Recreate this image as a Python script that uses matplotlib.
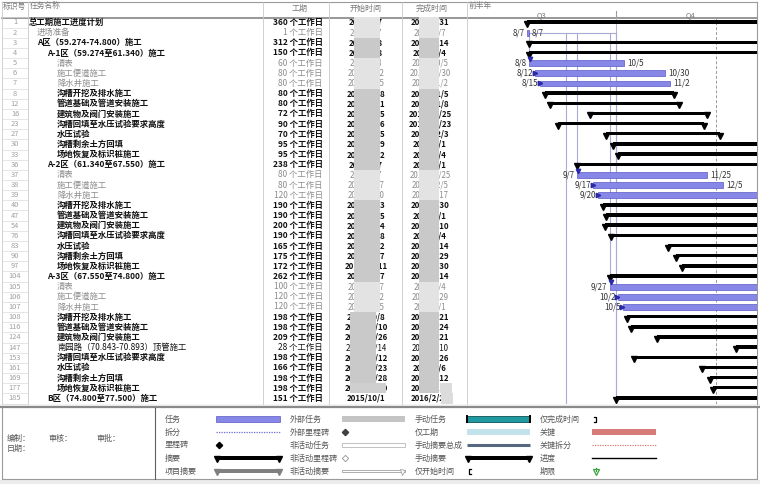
import matplotlib
matplotlib.use('Agg')
import matplotlib.pyplot as plt
import matplotlib.dates as mdates
from matplotlib.patches import Rectangle
from matplotlib.transforms import blended_transform_factory
import datetime as dt

plt.rcParams['font.family'] = ['Noto Sans CJK SC', 'DejaVu Sans']

# ---------------- data ----------------
task_ids = [1, 2, 3, 4, 5, 6, 7, 8, 12, 16, 23, 27, 30, 33, 36, 37, 38, 39, 40, 47,
            54, 76, 83, 90, 97, 104, 105, 106, 107, 108, 116, 124, 147, 153, 161,
            169, 177, 185]
task_names = [
    "总工期施工进度计划", "进场准备", "A区（59.274-74.800）施工",
    "A-1区（59.274至61.340）施工", "清表", "施工便道施工", "降水井施工",
    "沟槽开挖及排水施工", "管道基础及管道安装施工", "建筑物及阀门安装施工",
    "沟槽回填至水压试验要求高度", "水压试验", "沟槽剩余土方回填", "场地恢复及标识桩施工",
    "A-2区（61.340至67.550）施工", "清表", "施工便道施工", "降水井施工",
    "沟槽开挖及排水施工", "管道基础及管道安装施工", "建筑物及阀门安装施工",
    "沟槽回填至水压试验要求高度", "水压试验", "沟槽剩余土方回填", "场地恢复及标识桩施工",
    "A-3区（67.550至74.800）施工", "清表", "施工便道施工", "降水井施工",
    "沟槽开挖及排水施工", "管道基础及管道安装施工", "建筑物及阀门安装施工",
    "南园路（70.843-70.893）顶管施工", "沟槽回填至水压试验要求高度", "水压试验",
    "沟槽剩余土方回填", "场地恢复及标识桩施工", "B区（74.800至77.500）施工"]
outline_levels = [0, 1, 1, 2, 3, 3, 3, 3, 3, 3, 3, 3, 3, 3, 2, 3, 3, 3, 3, 3,
                  3, 3, 3, 3, 3, 2, 3, 3, 3, 3, 3, 3, 3, 3, 3, 3, 3, 2]
durations = [360, 1, 312, 150, 60, 80, 80, 80, 80, 72, 90, 70, 95, 95, 238, 80, 80,
             120, 190, 190, 200, 190, 165, 175, 172, 262, 100, 120, 120, 198, 198,
             209, 28, 198, 166, 198, 198, 151]
start_dates = ["2015-08-07", "2015-08-07", "2015-08-08", "2015-08-08", "2015-08-08",
               "2015-08-12", "2015-08-15", "2015-08-18", "2015-08-21", "2015-09-15",
               "2015-08-26", "2015-09-25", "2015-09-29", "2015-10-02", "2015-09-07",
               "2015-09-07", "2015-09-17", "2015-09-20", "2015-09-23", "2015-09-25",
               "2015-09-24", "2015-09-28", "2015-11-02", "2015-11-07", "2015-11-11",
               "2015-09-27", "2015-09-27", "2015-10-02", "2015-10-05", "2015-10-08",
               "2015-10-10", "2015-10-26", "2015-12-14", "2015-10-12", "2015-11-23",
               "2015-11-28", "2015-11-30", "2015-10-01"]
finish_dates = ["2016-07-31", "2015-08-07", "2016-06-14", "2016-01-04", "2015-10-05",
                "2015-10-30", "2015-11-02", "2015-11-05", "2015-11-08", "2015-11-25",
                "2015-11-23", "2015-12-03", "2016-01-01", "2016-01-04", "2016-05-01",
                "2015-11-25", "2015-12-05", "2016-01-17", "2016-03-30", "2016-04-01",
                "2016-04-10", "2016-04-04", "2016-04-14", "2016-04-29", "2016-04-30",
                "2016-06-14", "2016-01-04", "2016-01-29", "2016-02-01", "2016-04-21",
                "2016-04-24", "2016-05-21", "2016-01-10", "2016-04-26", "2016-05-06",
                "2016-06-12", "2016-06-14", "2016-02-28"]
# 'S' = summary (black bar), 'T' = task (blue bar)
row_kinds = ["S", "T", "S", "S", "T", "T", "T", "S", "S", "S", "S", "S", "S", "S",
             "S", "T", "T", "T", "S", "S", "S", "S", "S", "S", "S", "S", "T", "T",
             "T", "S", "S", "S", "S", "S", "S", "S", "S", "S"]
# link marker at task start: 'd' down arrow, 'r' right arrow, '' none
link_marks = ["", "", "", "", "d", "r", "r", "", "", "", "", "", "", "", "", "d",
              "r", "r", "", "", "", "", "", "", "", "", "d", "r", "r", "", "", "",
              "", "", "", "", "", ""]
link_from_row = 1
link_to_rows = [4, 15, 26, 37]
extra_link_date = "2015-08-31"
status_date = "2015-12-02"
timeline_start = "2015-07-01"
quarters = [("Q3", "2015-07-01", "2015-10-01"), ("Q4", "2015-10-01", "2016-01-01")]

legend_cols = [
    ["任务", "拆分", "里程碑", "摘要", "项目摘要"],
    ["外部任务", "外部里程碑", "非活动任务", "非活动里程碑", "非活动摘要"],
    ["手动任务", "仅工期", "手动摘要总成", "手动摘要", "仅开始时间"],
    ["仅完成时间", "关键", "关键拆分", "进度", "期限"],
]

# ---------------- helpers ----------------
def d(s):
    return mdates.date2num(dt.datetime.strptime(s, "%Y-%m-%d"))

def fmt_md(s):
    t = dt.datetime.strptime(s, "%Y-%m-%d")
    return f"{t.month}/{t.day}"

def fmt_full(s):
    t = dt.datetime.strptime(s, "%Y-%m-%d")
    return f"{t.year}/{t.month}/{t.day}"

W, H = 760, 484
ROW0, RH = 22.5, 10.16
TOP, HDR, TBOT = 2, 18, 404
GX0, GX1 = 467, 757
PX_PER_DAY = 1.62

def ry(i):
    return ROW0 + i * RH

fig = plt.figure(figsize=(W / 100, H / 100), dpi=100)
bg = fig.add_axes([0, 0, 1, 1])
bg.set_xlim(0, W)
bg.set_ylim(H, 0)
bg.axis('off')

GRID = '#c9c9c9'
FS = 6.0

# ---------------- table frame ----------------
bg.add_patch(Rectangle((0, 0), W, H, fc='white', ec='none', zorder=0))
bg.plot([2, GX1], [TOP, TOP], color='#9a9a9a', lw=0.8)
bg.plot([2, GX1], [HDR, HDR], color='#7a7a7a', lw=1.1)
for x in [2, 28, 263, 329, 402, GX0]:
    bg.plot([x, x], [TOP, TBOT], color=GRID, lw=0.6)
bg.plot([GX1, GX1], [TOP, TBOT], color='#9a9a9a', lw=0.8)
for i in range(len(task_ids) + 1):
    y = ry(i) - RH / 2
    bg.plot([2, 28], [y, y], color='#dadada', lw=0.5)

hdr_c = '#7a7a7a'
bg.text(3, 7, "标识号", fontsize=5.6, color=hdr_c, va='center')
bg.text(30, 7, "任务名称", fontsize=5.6, color=hdr_c, va='center')
bg.text(300, 8, "工期", fontsize=5.8, color=hdr_c, va='center', ha='center')
bg.text(366, 8, "开始时间", fontsize=5.8, color=hdr_c, va='center', ha='center')
bg.text(432, 8, "完成时间", fontsize=5.8, color=hdr_c, va='center', ha='center')
bg.text(469, 6, "前半年", fontsize=5.6, color=hdr_c, va='center')

indent_x = {0: 28.5, 1: 37, 2: 47, 3: 57}
for i, tid in enumerate(task_ids):
    y = ry(i)
    summ = row_kinds[i] == "S" or task_ids[i] == 147
    bold = row_kinds[i] == "S" and task_ids[i] != 147
    col = '#111111' if summ else '#8c8c8c'
    wt = 'bold' if bold else 'normal'
    bg.text(15, y, str(tid), fontsize=5.4, color='#a0a0a0', ha='center', va='center')
    bg.text(indent_x[outline_levels[i]], y, task_names[i], fontsize=FS, color=col,
            weight=wt, va='center')
    bg.text(323, y, f"{durations[i]} 个工作日", fontsize=FS, color=col, weight=wt,
            ha='right', va='center')
    bg.text(366, y, fmt_full(start_dates[i]), fontsize=FS - 0.3, color=col, weight=wt,
            ha='center', va='center')
    bg.text(430, y, fmt_full(finish_dates[i]), fontsize=FS - 0.3, color=col, weight=wt,
            ha='center', va='center')

# privacy blur over the date columns (as in the screenshot)
for i in range(len(task_ids) - 1):
    y = ry(i)
    shade = '#c9c9c9' if row_kinds[i] == "S" and i > 1 else '#e3e3e3'
    x0s = 354 if i < 29 else 350
    bg.add_patch(Rectangle((x0s, y - RH / 2), 26, RH, fc=shade, ec='none', zorder=5))
    bg.add_patch(Rectangle((419, y - RH / 2), 20, RH, fc=shade, ec='none', zorder=5))
bg.add_patch(Rectangle((350, ry(36) - RH / 2), 36, RH, fc='#cfcfcf', ec='none', zorder=5))
bg.add_patch(Rectangle((440, ry(36) - RH / 2), 12, RH, fc='#dcdcdc', ec='none', zorder=5))
bg.add_patch(Rectangle((441, ry(37) - RH / 2), 12, RH, fc='#dcdcdc', ec='none', zorder=5))

# ---------------- gantt ----------------
ax = fig.add_axes([GX0 / W, 1 - TBOT / H, (GX1 - GX0) / W, (TBOT - HDR) / H])
x_left = d(timeline_start)
x_right = x_left + (GX1 - GX0) / PX_PER_DAY
ax.set_xlim(x_left, x_right)
ax.set_ylim((TBOT - ROW0) / RH, (HDR - ROW0) / RH)
ax.set_axis_off()

tr = blended_transform_factory(ax.transData, fig.transFigure)
for name, q0, q1 in quarters:
    xm = (d(q0) + d(q1)) / 2
    ax.text(xm, 1 - 15 / H, name, transform=tr, fontsize=5.4, color=hdr_c,
            ha='center', va='center', clip_on=False)
ax.plot([d(quarters[1][1]), d(quarters[1][1])], [1 - 11 / H, 1 - HDR / H],
        transform=tr, color='#9a9a9a', lw=0.8, clip_on=False)

ylo, yhi = ax.get_ylim()
ax.plot([d(status_date)] * 2, [ylo, yhi], color='#9a9a9a', lw=0.7, ls=(0, (3, 2)))
ax.plot([d(quarters[1][1])] * 2, [ylo, yhi], color='#b8b8cc', lw=0.8)

LINK = '#a7abd6'
fr = link_from_row
xf = d(finish_dates[fr]) + 1
last_x = max(d(start_dates[r]) for r in link_to_rows)
ax.plot([xf + 1, last_x], [fr, fr], color=LINK, lw=0.8)
for r in link_to_rows:
    xs = d(start_dates[r])
    ax.plot([xs, xs], [fr, r - 0.35], color=LINK, lw=0.8)
ax.plot([d(extra_link_date)] * 2, [fr, ylo], color=LINK, lw=0.8)

BLUE = '#8787e8'
BLUE_E = '#5a5ac8'
for i in range(len(task_ids)):
    s = d(start_dates[i])
    e = d(finish_dates[i]) + 1
    if row_kinds[i] == "S":
        ax.barh(i - 0.05, e - s, left=s, height=0.34, color='black', zorder=3)
        ax.plot([s, e], [i + 0.15, i + 0.15], ls='none', marker='v', ms=4.2,
                color='black', zorder=4)
    else:
        ax.barh(i, e - s, left=s, height=0.58, color=BLUE, edgecolor=BLUE_E,
                lw=0.5, zorder=3)
        ax.text(s - 1.2, i, fmt_md(start_dates[i]), fontsize=5.8, color='#333333',
                ha='right', va='center', zorder=4)
        if e + 14 < x_right:
            ax.text(e + 2.2, i, fmt_md(finish_dates[i]), fontsize=5.8, color='#333333',
                    ha='left', va='center', zorder=4)
    if link_marks[i] == 'd':
        ax.plot(s + 0.8, i - 0.42, marker='v', ms=3.2, color='#2a2aa8', zorder=5)
    elif link_marks[i] == 'r':
        ax.plot(s - 0.2, i, marker='>', ms=3.2, color='#2a2aa8', zorder=5)

# ---------------- legend ----------------
LTOP, LBOT = 408, 479
bg.add_patch(Rectangle((0, TBOT), W, LTOP - TBOT, fc='#f4f4f4', ec='none', zorder=0))
bg.plot([0, W], [LTOP - 1.5, LTOP - 1.5], color='#8a8a8a', lw=1.6)
bg.plot([2, GX1], [LBOT, LBOT], color='#9a9a9a', lw=0.8)
bg.plot([2, 2], [LTOP, LBOT], color='#9a9a9a', lw=0.8)
bg.plot([GX1, GX1], [LTOP, LBOT], color='#9a9a9a', lw=0.8)
bg.plot([155, 155], [LTOP, LBOT], color='#606060', lw=0.8)
bg.add_patch(Rectangle((0, LBOT + 0.5), W, H - LBOT, fc='#ececec', ec='none', zorder=0))

lc = '#555555'
bg.text(7, 438, "编制：", fontsize=5.8, color=lc, va='center')
bg.text(48, 438, "审核：", fontsize=5.8, color=lc, va='center')
bg.text(96, 438, "审批：", fontsize=5.8, color=lc, va='center')
bg.text(7, 448, "日期：", fontsize=5.8, color=lc, va='center')

lab_x = [165, 290, 415, 540]
sym_x = [(216, 280), (342, 405), (467, 530), (592, 656)]
row_y = [419, 432, 445, 458, 471]


def summary_sym(x0, x1, y, c, hollow=False):
    if hollow:
        bg.add_patch(Rectangle((x0, y - 1.3), x1 - x0, 2.6, fc='white', ec=c, lw=0.6))
        bg.plot([x1 - 3], [y + 1], marker='v', ms=3.6, mfc='white', mec=c, mew=0.6)
    else:
        bg.add_patch(Rectangle((x0, y - 1.6), x1 - x0, 3.2, fc=c, ec='none'))
        bg.plot([x0 + 1, x1 - 1], [y + 1.2, y + 1.2], ls='none', marker='v', ms=4,
                color=c)


for ci, labels in enumerate(legend_cols):
    for ri, lab in enumerate(labels):
        bg.text(lab_x[ci], row_y[ri], lab, fontsize=5.8, color=lc, va='center')
        x0, x1 = sym_x[ci]
        y = row_y[ri]
        key = (ci, ri)
        if key == (0, 0):
            bg.add_patch(Rectangle((x0, y - 2.6), x1 - x0, 5.2, fc=BLUE, ec=BLUE_E, lw=0.5))
        elif key == (0, 1):
            bg.plot([x0, x1], [y, y], color='#6a6ad8', lw=0.9, ls=(0, (1, 1)))
        elif key == (0, 2):
            bg.plot(x0 + 3, y, marker='D', ms=3.2, color='black')
        elif key == (0, 3):
            summary_sym(x0, x1, y, 'black')
        elif key == (0, 4):
            summary_sym(x0, x1, y, '#808080')
        elif key == (1, 0):
            bg.add_patch(Rectangle((x0, y - 2.6), x1 - x0, 5.2, fc='#c4c4c4', ec='none'))
        elif key == (1, 1):
            bg.plot(x0 + 3, y, marker='D', ms=3.2, color='#404040')
        elif key == (1, 2):
            bg.add_patch(Rectangle((x0, y - 2.4), x1 - x0, 4.8, fc='white', ec='#b8b8b8', lw=0.6))
        elif key == (1, 3):
            bg.plot(x0 + 3, y, marker='D', ms=3.2, mfc='white', mec='#909090', mew=0.6)
        elif key == (1, 4):
            summary_sym(x0, x1, y, '#a0a0a0', hollow=True)
        elif key == (2, 0):
            bg.add_patch(Rectangle((x0, y - 2.6), x1 - x0, 5.2, fc='#1f9aa0', ec='#0e4f55', lw=0.6))
            for xx in (x0, x1):
                bg.plot([xx, xx], [y - 2.8, y + 2.8], color='black', lw=1.4)
        elif key == (2, 1):
            bg.add_patch(Rectangle((x0, y - 2.6), x1 - x0, 5.2, fc='#c3e2ec', ec='none'))
        elif key == (2, 2):
            bg.plot([x0, x1], [y, y], color='#56687f', lw=2.2, solid_capstyle='butt')
        elif key == (2, 3):
            summary_sym(x0, x1, y, 'black')
        elif key == (2, 4):
            bg.plot([x0 + 4, x0 + 2, x0 + 2, x0 + 4], [y - 2.5, y - 2.5, y + 2.5, y + 2.5],
                    color='black', lw=0.9)
        elif key == (3, 0):
            bg.plot([x0 + 2, x0 + 4, x0 + 4, x0 + 2], [y - 2.5, y - 2.5, y + 2.5, y + 2.5],
                    color='black', lw=0.9)
        elif key == (3, 1):
            bg.add_patch(Rectangle((x0, y - 2.6), x1 - x0, 5.2, fc='#d97a7a', ec='none'))
        elif key == (3, 2):
            bg.plot([x0, x1], [y, y], color='#d97a7a', lw=0.9, ls=(0, (1, 1)))
        elif key == (3, 3):
            bg.plot([x0, x1], [y, y], color='black', lw=1.0)
        elif key == (3, 4):
            bg.plot(x0 + 4, y + 0.8, marker='v', ms=4, mfc='white', mec='#3aa040', mew=0.9)
            bg.plot([x0 + 4, x0 + 4], [y - 3, y - 0.5], color='#3aa040', lw=0.9)

fig.savefig('out.png', dpi=100)
